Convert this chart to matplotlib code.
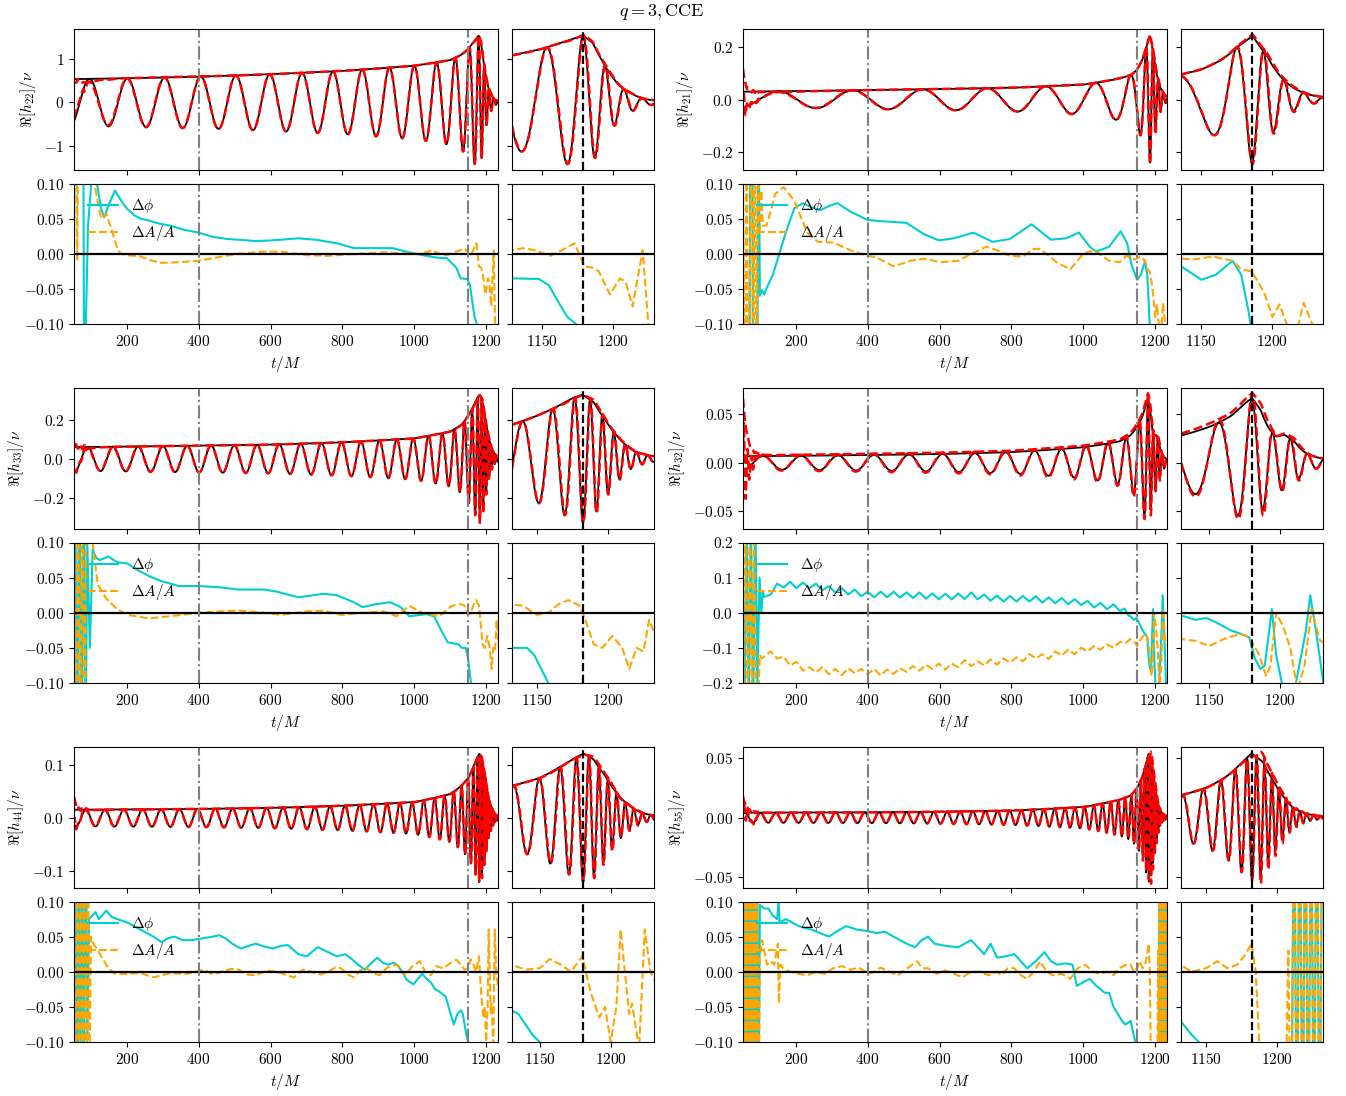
import numpy as np
import matplotlib
matplotlib.use("Agg")
import matplotlib.pyplot as plt

plt.rcParams.update({
    "font.family": "serif",
    "font.serif": ["cmr10", "DejaVu Serif"],
    "mathtext.fontset": "cm",
    "axes.formatter.use_mathtext": True,
    "font.size": 11,
})

# ---------------- data ----------------
MODES = ["22", "21", "33", "32", "44", "55"]
M_INDEX = [2, 1, 3, 2, 4, 5]
T_PEAK = [1179.0, 1185.6, 1182.4, 1180.0, 1180.5, 1182.4]
PEAK_SIGN = [1, -1, -1, 1, -1, -1]
OMEGA_QNM = [0.49, 0.45, 0.80, 0.52, 1.05, 1.30]

# (2,2) gravitational-wave frequency read from the trough spacing of Re[h22]
OMEGA_T = [50, 200, 400, 600, 800, 900, 1000, 1050, 1100, 1120, 1130, 1150,
           1165, 1175, 1180, 1188, 1195, 1210, 1240]
OMEGA22 = [0.058, 0.060, 0.063, 0.068, 0.076, 0.083, 0.095, 0.105, 0.125, 0.14,
           0.15, 0.185, 0.23, 0.29, 0.33, 0.42, 0.47, 0.485, 0.49]

# amplitude envelopes |h_lm|/nu
AMP_T = {
    "22": [50, 200, 400, 600, 800, 1000, 1100, 1130, 1150, 1165, 1179, 1186, 1193,
           1200, 1206, 1212, 1218, 1226, 1240],
    "21": [50, 200, 400, 600, 800, 1000, 1100, 1135, 1150, 1165, 1175, 1186, 1196,
           1204, 1211, 1220, 1240],
    "33": [50, 200, 400, 600, 800, 1000, 1100, 1132, 1150, 1165, 1175, 1182, 1190,
           1198, 1205, 1212, 1220, 1240],
    "32": [50, 200, 400, 600, 800, 1000, 1100, 1130, 1150, 1165, 1174, 1180, 1186,
           1192, 1197, 1203, 1210, 1218, 1240],
    "44": [50, 200, 400, 600, 800, 1000, 1100, 1130, 1150, 1165, 1175, 1181, 1188,
           1196, 1204, 1212, 1222, 1240],
    "55": [50, 200, 400, 600, 800, 1000, 1100, 1132, 1150, 1165, 1175, 1182, 1190,
           1198, 1205, 1212, 1222, 1240],
}
AMP = {
    "22": [0.54, 0.56, 0.595, 0.655, 0.73, 0.85, 0.98, 1.10, 1.24, 1.40, 1.55, 1.38,
           0.94, 0.58, 0.35, 0.23, 0.13, 0.06, 0.02],
    "21": [0.030, 0.032, 0.036, 0.040, 0.045, 0.057, 0.080, 0.095, 0.115, 0.155,
           0.20, 0.245, 0.17, 0.10, 0.06, 0.03, 0.006],
    "33": [0.060, 0.063, 0.068, 0.073, 0.085, 0.105, 0.14, 0.175, 0.22, 0.27, 0.31,
           0.327, 0.29, 0.20, 0.13, 0.075, 0.035, 0.008],
    "32": [0.0068, 0.0072, 0.0080, 0.0090, 0.011, 0.016, 0.022, 0.028, 0.037, 0.048,
           0.060, 0.067, 0.055, 0.035, 0.027, 0.029, 0.022, 0.010, 0.002],
    "44": [0.0155, 0.016, 0.017, 0.019, 0.023, 0.030, 0.045, 0.060, 0.075, 0.097,
           0.113, 0.121, 0.11, 0.08, 0.048, 0.026, 0.010, 0.002],
    "55": [0.0042, 0.0043, 0.0045, 0.0050, 0.0060, 0.0090, 0.015, 0.0187, 0.025,
           0.035, 0.046, 0.054, 0.047, 0.030, 0.017, 0.008, 0.003, 0.0006],
}
JUNK_AMP = [0.0, 0.15, 0.015, 0.075, 0.045, 0.018]
JUNK_TAU = [5.0, 6.0, 8.0, 12.0, 5.0, 10.0]

WAVE_YLIM = [(-1.55, 1.70), (-0.268, 0.27), (-0.353, 0.361), (-0.0676, 0.077),
             (-0.130, 0.133), (-0.0584, 0.0592)]
WAVE_YTICKS = [[-1, 0, 1], [-0.2, 0.0, 0.2], [-0.2, 0.0, 0.2], [-0.05, 0.0, 0.05],
               [-0.1, 0.0, 0.1], [-0.05, 0.0, 0.05]]
RES_LIM = [0.1, 0.1, 0.1, 0.2, 0.1, 0.1]

# phase residual Delta phi
DPHI_T = {
    "22": [50, 56, 78, 82, 86, 92, 101, 110, 117, 128, 137, 150, 167, 185, 199, 220,
           238, 256, 290, 321, 360, 400, 440, 480, 511, 559, 600, 630, 677, 725, 760,
           784, 832, 880, 939, 986, 1034, 1069, 1090, 1117, 1129, 1148, 1155, 1162,
           1168, 1174, 1185, 1240],
    "21": [50, 71, 73, 79, 81, 93, 95, 100, 106, 112, 118, 136, 154, 172,
           196, 220, 244, 268, 292, 316, 352, 400, 448, 508, 556, 598, 640, 694, 748,
           796, 856, 910, 952, 988, 1018, 1036, 1072, 1104, 1122, 1135, 1150, 1160,
           1172, 1178, 1183, 1186, 1240],
    "33": [50, 56, 62, 68, 74, 80, 85, 90, 97, 105, 115, 125, 149, 173, 202, 226,
           262, 297, 345, 400, 464, 511, 582, 618, 677, 749, 784, 832, 856, 891, 933,
           962, 986, 1034, 1055, 1075, 1093, 1123, 1132, 1143, 1148, 1153, 1158, 1170,
           1240],
    "32": [50, 57, 63, 69, 75, 81, 87, 93, 99, 104, 108, 112, 130,
           148, 166, 184, 202, 220, 238, 256, 274, 292, 310, 328, 346, 364, 382, 400,
           418, 436, 454, 472, 490, 508, 526, 544, 562, 580, 598, 616, 634, 652, 670,
           688, 706, 724, 742, 760, 778, 796, 814, 832, 850, 868, 886, 904, 922, 940,
           958, 976, 994, 1012, 1030, 1048, 1066, 1084, 1102, 1114, 1126, 1132, 1140,
           1148, 1156, 1165, 1172, 1178, 1182, 1186, 1189, 1194, 1197, 1202, 1210,
           1218, 1221, 1225, 1232, 1240],
    "44": [50, 55, 60, 65, 70, 75, 80, 85, 90, 95, 104, 113, 122, 131, 143,
           158, 173, 202, 238, 274, 297, 315, 333, 356, 380, 416, 440, 458, 476, 493,
           517, 540, 559, 582, 606, 630, 648, 662, 677, 701, 731, 760, 784, 808, 826,
           844, 862, 880, 897, 912, 927, 942, 956, 968, 980, 998, 1010, 1022, 1034,
           1046, 1058, 1069, 1087, 1100, 1110, 1120, 1130, 1135, 1140, 1145, 1150,
           1240],
    "55": [50, 53, 56, 59, 62, 65, 68, 71, 74, 77, 80, 83, 86, 89, 92, 95, 100, 112,
           124, 136, 148, 152, 155, 172, 190, 208, 226, 244, 268, 292, 316, 340, 370,
           400, 424, 448, 472, 490, 508, 532, 550, 568, 586, 604, 628, 652, 670, 688,
           706, 724, 742, 760, 784, 808, 826, 844, 868, 892, 910, 928, 950, 970, 982,
           1000, 1018, 1036, 1048, 1060, 1072, 1084, 1096, 1108, 1117, 1126, 1132,
           1140, 1145, 1150, 1205, 1210, 1212, 1214, 1216, 1218, 1220, 1222, 1224,
           1226, 1228, 1230, 1232, 1240],
}
DPHI = {
    "22": [-0.3, 0.3, 0.3, -0.3, -0.1, 0.04, 0.1, 0.115, 0.1, 0.065, 0.052, 0.07,
           0.09, 0.075, 0.065, 0.055, 0.05, 0.048, 0.043, 0.04, 0.034, 0.03, 0.024,
           0.021, 0.02, 0.018, 0.019, 0.02, 0.022, 0.02, 0.017, 0.015, 0.008, 0.008,
           0.008, 0.002, -0.003, -0.006, -0.006, -0.02, -0.035, -0.036, -0.045, -0.07,
           -0.09, -0.1, -0.14, -0.3],
    "21": [-0.3, -0.3, 0.3, 0.3, -0.3, -0.3, 0.3, -0.06, -0.052,
           -0.058, -0.05, -0.03, 0.0, 0.03, 0.065, 0.072, 0.066, 0.062, 0.068, 0.072,
           0.06, 0.048, 0.046, 0.044, 0.028, 0.019, 0.022, 0.03, 0.017, 0.021, 0.042,
           0.02, 0.022, 0.03, 0.01, 0.003, 0.01, 0.032, 0.015, -0.017, -0.037, -0.03,
           -0.01, -0.03, -0.08, -0.12, -0.3],
    "33": [-0.3, 0.3, -0.3, 0.3, -0.3, 0.3, -0.2, 0.1, -0.05, 0.09, 0.078,
           0.075, 0.08, 0.072, 0.07, 0.062, 0.052, 0.045, 0.038, 0.038, 0.036, 0.033,
           0.033, 0.03, 0.022, 0.027, 0.025, 0.015, 0.008, 0.012, 0.015, 0.008, -0.005,
           -0.002, -0.005, -0.025, -0.042, -0.045, -0.05, -0.05, -0.06, -0.08, -0.1,
           -0.2, -0.3],
    "32": [0.3, -0.3, 0.3, -0.3, 0.3, -0.3, 0.3, -0.2, 0.1, 0.0, 0.06, 0.045, 0.052,
           0.083, 0.072, 0.088, 0.07, 0.086, 0.07, 0.083,
           0.064, 0.076, 0.057, 0.07, 0.052, 0.066, 0.047, 0.06, 0.044, 0.06, 0.044,
           0.06, 0.043, 0.058, 0.042, 0.058, 0.04, 0.055, 0.038, 0.054, 0.038, 0.055,
           0.039, 0.058, 0.038, 0.052, 0.034, 0.049, 0.032, 0.048, 0.032, 0.048, 0.032,
           0.047, 0.029, 0.044, 0.027, 0.042, 0.024, 0.039, 0.022, 0.034, 0.015, 0.028,
           0.01, 0.024, 0.005, 0.012, -0.008, -0.01, -0.02, -0.015, -0.03, -0.05, -0.06,
           -0.07, -0.13, -0.16, -0.15, 0.01, -0.12, -0.22, -0.22, -0.05, 0.05, -0.05,
           -0.25, -0.3],
    "44": [-0.3, 0.3, -0.3, 0.3, -0.3, 0.3, -0.3, 0.3, -0.1, 0.075, 0.08,
           0.085, 0.075, 0.08, 0.087, 0.078, 0.075, 0.07, 0.06, 0.05, 0.042, 0.048,
           0.05, 0.045, 0.045, 0.048, 0.05, 0.052, 0.047, 0.04, 0.033, 0.037, 0.04,
           0.036, 0.033, 0.037, 0.038, 0.032, 0.025, 0.022, 0.035, 0.028, 0.022, 0.025,
           0.018, 0.01, 0.003, 0.012, 0.02, 0.013, 0.01, 0.013, 0.008, -0.002, -0.012,
           -0.018, -0.01, -0.003, -0.01, -0.015, -0.025, -0.028, -0.035, -0.058,
           -0.075, -0.06, -0.055, -0.06, -0.075, -0.09, -0.1, -0.5],
    "55": [0.3, -0.3, 0.3, -0.3, 0.3, -0.3, 0.3, -0.3, 0.3, -0.3, 0.3, -0.3, 0.3,
           -0.3, 0.3, -0.3, 0.095, 0.09, 0.09, 0.08, 0.075, 0.1, 0.07, 0.075, 0.07,
           0.065, 0.062, 0.06, 0.055, 0.05, 0.058, 0.065, 0.06, 0.058, 0.055, 0.057,
           0.05, 0.045, 0.04, 0.035, 0.045, 0.05, 0.04, 0.038, 0.036, 0.035, 0.04, 0.045,
           0.035, 0.025, 0.04, 0.02, 0.022, 0.025, 0.015, 0.005, 0.015, 0.028, 0.015,
           0.01, 0.012, 0.01, -0.02, -0.015, -0.01, -0.02, -0.025, -0.03, -0.03, -0.05,
           -0.06, -0.07, -0.075, -0.072, -0.07, -0.09, -0.1, -0.15, -0.3, -0.3, 0.3,
           -0.3, 0.3, -0.3, 0.3, -0.3, 0.3, -0.3, 0.3, -0.3, 0.3, 0.3],
}

# amplitude residual Delta A / A
DAMP_T = {
    "22": [50, 58, 62, 66, 84, 100, 110, 120, 129, 143, 160, 175, 185, 200, 240, 270,
           297, 345, 400, 452, 511, 582, 630, 701, 760, 844, 915, 986, 1020, 1051, 1070,
           1090, 1110, 1129, 1137, 1145, 1156, 1164, 1173, 1180, 1186, 1190, 1198, 1205,
           1209, 1214, 1221, 1225, 1240],
    "21": [50, 59, 63, 67, 78, 81, 86, 90, 95, 100, 104, 108, 118, 130, 142, 166,
           196, 232, 262, 304, 352, 400, 424, 472, 520, 556, 604, 652, 688, 730, 760,
           796, 832, 862, 880, 928, 964, 1000, 1030, 1072, 1102, 1120, 1135, 1145, 1158,
           1172, 1178, 1185, 1190, 1195, 1200, 1205, 1210, 1216, 1222, 1228, 1240],
    "33": [50, 58, 64, 70, 76, 82, 88, 95, 105, 119, 143, 173, 202, 262, 321,
           400, 464, 511, 582, 630, 701, 749, 796, 856, 915, 951, 986, 1022, 1069, 1105,
           1125, 1132, 1140, 1150, 1158, 1165, 1172, 1180, 1184, 1190, 1196, 1203, 1210,
           1215, 1220, 1225, 1229, 1240],
    "32": [50, 54, 60, 66, 72, 78, 84, 90, 95, 100, 106, 112, 130, 148,
           166, 184, 202, 220, 238, 256, 274, 292, 310, 328, 346, 364, 382, 400, 418,
           436, 454, 472, 490, 508, 526, 544, 562, 580, 598, 616, 634, 652, 670, 688,
           706, 724, 742, 760, 778, 796, 814, 832, 850, 868, 886, 904, 922, 940, 958,
           976, 994, 1012, 1030, 1048, 1066, 1084, 1102, 1120, 1130, 1140, 1150, 1160,
           1172, 1178, 1185, 1190, 1193, 1197, 1202, 1207, 1212, 1217, 1222, 1228,
           1240],
    "44": [50, 57, 62, 67, 72, 77, 82, 87, 92, 95, 100, 107, 120, 131, 149,
           167, 202, 238, 274, 321, 368, 416, 440, 464, 490, 511, 535, 559, 590, 618,
           640, 665, 690, 713, 740, 760, 780, 796, 815, 832, 850, 867, 885, 903, 925,
           951, 974, 995, 1016, 1030, 1046, 1060, 1081, 1100, 1117, 1130, 1140, 1150,
           1157, 1165, 1172, 1180, 1186, 1192, 1196, 1200, 1204, 1207, 1210, 1213, 1215,
           1220, 1224, 1228, 1240],
    "55": [50, 53, 56, 59, 62, 65, 68, 71, 74, 77, 80, 83, 86, 89, 92, 95, 100, 106,
           112, 120, 130, 140, 150, 153, 157, 165, 184, 208, 232, 256, 280, 304, 328,
           352, 376, 400, 418, 436, 460, 484, 510, 538, 552, 568, 592, 616, 640, 664,
           688, 712, 736, 760, 772, 790, 808, 826, 844, 862, 880, 898, 916, 940, 964,
           985, 1006, 1026, 1048, 1066, 1084, 1100, 1120, 1132, 1140, 1150, 1158, 1165,
           1172, 1178, 1182, 1185, 1188, 1192, 1205, 1208, 1210, 1212, 1214, 1216, 1218,
           1220, 1222, 1224, 1226, 1228, 1230, 1232, 1240],
}
DAMP = {
    "22": [0.3, 0.3, -0.01, 0.3, 0.15, 0.11, 0.1, 0.07, 0.05, 0.057, 0.03, 0.005, 0.0,
           -0.002, -0.004, -0.01, -0.013, -0.012, -0.01, -0.005, 0.0, 0.003, 0.003,
           -0.002, -0.003, 0.0, 0.002, 0.0, 0.0, 0.005, 0.0, -0.002, 0.002, 0.005,
           0.008, 0.005, -0.003, 0.005, 0.015, -0.018, -0.02, -0.025, -0.058, -0.035,
           -0.04, -0.075, 0.005, -0.1, -0.3],
    "21": [0.3, -0.3, 0.3, -0.3, 0.3, -0.3, 0.3, -0.3, 0.12, 0.035, 0.09, 0.04,
           0.04, 0.06, 0.085, 0.095, 0.075, 0.03, 0.017, 0.016, 0.005, -0.003, -0.005,
           -0.018, -0.01, -0.007, -0.012, -0.01, 0.0, 0.01, 0.005, -0.003, -0.004,
           0.007, 0.007, -0.013, -0.022, 0.0, 0.005, -0.01, -0.012, -0.003, -0.007,
           -0.008, -0.004, -0.01, -0.022, -0.025, -0.04, -0.06, -0.09, -0.072, -0.1,
           -0.12, -0.07, -0.1, -0.2],
    "33": [0.3, -0.3, 0.3, -0.3, 0.3, -0.3, 0.3, 0.1, 0.1, 0.04, 0.02,
           0.005, -0.003, -0.008, -0.005, 0.0, 0.002, 0.003, 0.0, -0.003, 0.002, 0.003,
           -0.003, 0.0, 0.002, -0.005, 0.01, 0.0, -0.005, 0.01, 0.012, 0.012, 0.01,
           -0.003, 0.0, 0.012, 0.018, 0.01, -0.01, -0.045, -0.05, -0.033, -0.05, -0.08,
           -0.05, -0.055, -0.01, -0.07],
    "32": [0.3, -0.3, 0.3, -0.3, 0.3, -0.3, 0.2, -0.3, -0.25, -0.12,
           -0.13, -0.125, -0.11, -0.13, -0.125, -0.15, -0.14, -0.165, -0.155, -0.17,
           -0.155, -0.175, -0.16, -0.178, -0.158, -0.172, -0.16, -0.175, -0.16, -0.178,
           -0.162, -0.174, -0.158, -0.168, -0.152, -0.165, -0.148, -0.16, -0.145,
           -0.162, -0.145, -0.155, -0.135, -0.152, -0.138, -0.15, -0.133, -0.148,
           -0.13, -0.142, -0.127, -0.138, -0.118, -0.13, -0.118, -0.132, -0.11, -0.122,
           -0.105, -0.118, -0.1, -0.11, -0.095, -0.105, -0.09, -0.1, -0.083, -0.085,
           -0.075, -0.08, -0.095, -0.075, -0.06, -0.07, -0.12, -0.18, -0.15, 0.0, -0.04,
           -0.1, -0.22, -0.15, 0.01, -0.08, -0.1],
    "44": [0.3, -0.3, 0.3, -0.3, 0.3, -0.3, 0.3, -0.3, 0.3, -0.2, 0.05,
           0.04, 0.03, 0.02, 0.005, -0.003, -0.003, -0.002, -0.008, -0.002, -0.003,
           0.003, -0.004, 0.0, 0.004, 0.003, -0.004, -0.005, 0.002, 0.0, -0.004, -0.008,
           0.003, 0.0, -0.004, 0.0, 0.006, 0.005, -0.004, -0.008, 0.002, 0.005, -0.002,
           -0.005, 0.006, 0.01, -0.005, 0.008, 0.015, 0.0, -0.005, 0.008, 0.005, 0.012,
           0.017, 0.01, 0.003, 0.005, 0.018, 0.01, 0.0, 0.022, -0.03, -0.065, -0.05,
           -0.1, -0.05, 0.06, 0.0, -0.06, -0.045, -0.11, 0.06, 0.0, -0.05],
    "55": [0.3, -0.3, 0.3, -0.3, 0.3, -0.3, 0.3, -0.3, 0.3, -0.3, 0.3, -0.3, 0.3,
           -0.3, 0.3, -0.3, 0.02, 0.045, 0.03, 0.01, 0.015, 0.01, 0.04, -0.045, 0.01,
           0.005, 0.0, -0.003, -0.005, 0.0, -0.003, 0.005, 0.008, 0.003, 0.006, -0.003,
           0.0, 0.006, 0.0, -0.005, 0.005, 0.015, 0.005, 0.005, -0.003, 0.002, -0.003,
           -0.008, 0.0, 0.0, -0.005, 0.0, -0.005, 0.005, 0.005, -0.005, -0.01, 0.0,
           0.015, 0.0, -0.005, -0.003, -0.01, 0.005, 0.01, 0.0, -0.003, 0.0, -0.005,
           0.005, 0.01, 0.01, 0.0, 0.005, 0.015, 0.005, 0.01, 0.025, 0.04, 0.0, -0.12,
           -0.3, -0.3, 0.03, -0.3, 0.3, -0.3, 0.3, -0.3, 0.3, -0.3, 0.3, -0.3, 0.3,
           -0.3, 0.3, 0.3],
}

MAIN_XLIM = (53, 1233)
MAIN_XTICKS = [200, 400, 600, 800, 1000, 1200]
ZOOM_XTICKS = [1150, 1200]
VLINES = [400, 1150]

# ---------------- build waveforms ----------------
T = np.arange(50.0, 1240.0001, 0.05)


def smooth_envelope(tk, ak):
    la = np.interp(T, tk, np.log(ak))
    k = 40
    win = np.hanning(2 * k + 1)
    win /= win.sum()
    return np.exp(np.convolve(np.pad(la, k, mode="edge"), win, mode="valid"))


def waveform(i):
    mode = MODES[i]
    m = M_INDEX[i]
    w22 = np.interp(T, OMEGA_T, OMEGA22)
    w_end = OMEGA22[-1]
    s = np.clip((w22 - 0.12) / (w_end - 0.12), 0, 1)
    om = 0.5 * m * w22 + (OMEGA_QNM[i] - 0.5 * m * w_end) * s
    dt = T[1] - T[0]
    phi = np.concatenate([[0.0], np.cumsum(0.5 * (om[1:] + om[:-1]) * dt)])
    phase0 = 0.0 if PEAK_SIGN[i] > 0 else np.pi
    phi += phase0 - np.interp(T_PEAK[i], T, phi)
    amp = smooth_envelope(AMP_T[mode], AMP[mode])
    re = amp * np.cos(phi)
    dA = np.clip(np.interp(T, DAMP_T[mode], DAMP[mode]), -0.15, 0.15)
    dp = np.clip(np.interp(T, DPHI_T[mode], DPHI[mode]), -0.15, 0.15)
    junk = JUNK_AMP[i] * np.exp(-(T - 50.0) / JUNK_TAU[i])
    amp_r = amp * (1 - dA)
    re_r = amp_r * np.cos(phi + dp) - junk * np.cos(0.6 * (T - 50.0))
    env_r = amp_r + junk
    return re, amp, re_r, env_r


# ---------------- layout ----------------
W, H = 1346, 1096
fig = plt.figure(figsize=(W / 100, H / 100), dpi=100)


def add_ax(x0, y0, w, h):
    return fig.add_axes([x0 / W, 1 - (y0 + h) / H, w / W, h / H])


COL_X = [74, 743]
MAIN_W, GAP, ZOOM_W = 424, 14, 142
ROW_Y = [29, 388, 747]
PANEL_H, VGAP = 140.5, 14

for i, mode in enumerate(MODES):
    row, col = divmod(i, 2)
    x0, y0 = COL_X[col], ROW_Y[row]
    ax_w = add_ax(x0, y0, MAIN_W, PANEL_H)
    ax_wz = add_ax(x0 + MAIN_W + GAP, y0, ZOOM_W, PANEL_H)
    ax_r = add_ax(x0, y0 + PANEL_H + VGAP, MAIN_W, PANEL_H)
    ax_rz = add_ax(x0 + MAIN_W + GAP, y0 + PANEL_H + VGAP, ZOOM_W, PANEL_H)

    re, amp, re_r, env_r = waveform(i)
    tp = T_PEAK[i]

    for ax in (ax_w, ax_wz):
        ax.plot(T, re, color="k", lw=1.3)
        ax.plot(T, amp, color="k", lw=1.3)
        ax.plot(T, re_r, color="red", ls="--", lw=1.8)
        ax.plot(T, env_r, color="red", ls="--", lw=1.8)
        ax.set_ylim(*WAVE_YLIM[i])
        ax.set_yticks(WAVE_YTICKS[i])
        ax.tick_params(labelbottom=False)

    for ax in (ax_r, ax_rz):
        ax.plot(DPHI_T[mode], DPHI[mode], color="darkturquoise", lw=1.5,
                label=r"$\Delta\phi$")
        ax.plot(DAMP_T[mode], DAMP[mode], color="orange", ls="--", lw=1.5,
                label=r"$\Delta A/A$")
        ax.axhline(0, color="k", lw=1.6)
        lim = RES_LIM[i]
        ax.set_ylim(-lim, lim)
        ax.set_yticks(np.linspace(-lim, lim, 5))

    for ax in (ax_w, ax_r):
        for v in VLINES:
            ax.axvline(v, color="gray", ls="-.", lw=1.5)
        ax.set_xlim(*MAIN_XLIM)
        ax.set_xticks(MAIN_XTICKS)
    for ax in (ax_wz, ax_rz):
        ax.axvline(tp, color="k", ls="--", lw=1.6)
        ax.set_xlim(tp - 50, tp + 50)
        ax.set_xticks(ZOOM_XTICKS)
        ax.tick_params(labelleft=False)

    ax_w.set_ylabel(r"$\Re[h_{%s}]/\nu$" % mode)
    ax_r.set_xlabel(r"$t/M$")
    ax_r.legend(loc="upper left", frameon=False, fontsize=11)

fig.text(662 / W, 1 - 16 / H, r"$q=3, \mathrm{CCE}$", ha="center", va="baseline",
         fontsize=13)

fig.savefig("out.png", dpi=100)
